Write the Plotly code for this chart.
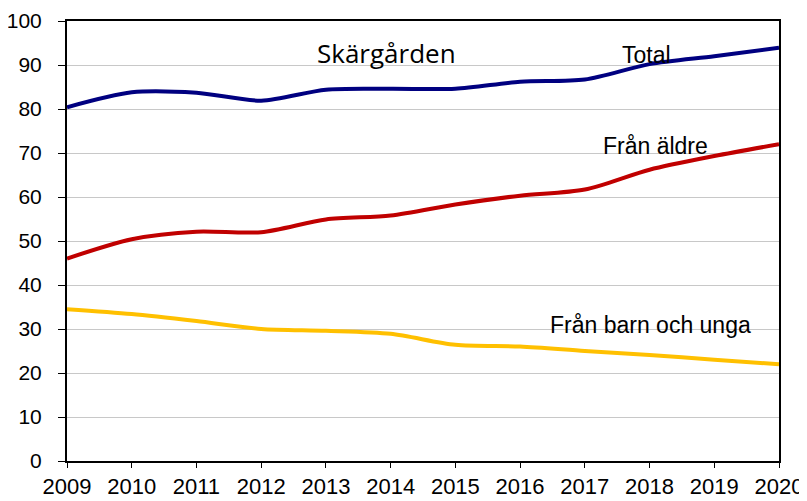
import plotly.graph_objects as go

years = [2009, 2010, 2011, 2012, 2013, 2014, 2015, 2016, 2017, 2018, 2019, 2020]
total = [80.4, 83.8, 83.7, 81.9, 84.4, 84.6, 84.6, 86.2, 86.7, 90.2, 92.0, 93.9]
fran_aldre = [46.0, 50.4, 52.1, 52.0, 54.9, 55.8, 58.3, 60.3, 61.7, 66.2, 69.3, 72.0]
fran_barn = [34.5, 33.4, 31.8, 30.0, 29.6, 28.9, 26.4, 26.0, 25.0, 24.1, 23.0, 22.0]
y_ticks = [0, 10, 20, 30, 40, 50, 60, 70, 80, 90, 100]

fig = go.Figure()
for name, vals, color in [
    ("Total", total, "#000080"),
    ("Från äldre", fran_aldre, "#C00000"),
    ("Från barn och unga", fran_barn, "#FFC000"),
]:
    fig.add_trace(go.Scatter(x=years, y=vals, mode="lines", name=name,
                             line=dict(color=color, width=4, shape="spline", smoothing=0.8)))

font_ann = dict(family="Liberation Sans, Arial", size=23, color="black")
ann = [
    dict(x=2013.94, y=92.7, text="Skärgården", font=dict(family="Open Sans", size=26, color="black")),
    dict(x=2017.96, y=92.3, text="Total", font=font_ann),
    dict(x=2018.09, y=71.6, text="Från äldre", font=font_ann),
    dict(x=2018.01, y=30.8, text="Från barn och unga", font=font_ann),
]
for a in ann:
    fig.add_annotation(x=a["x"], y=a["y"], text=a["text"], showarrow=False,
                       xanchor="center", yanchor="middle", font=a["font"])

fig.update_layout(
    width=799, height=493,
    margin=dict(l=59, r=28, t=13, b=40, autoexpand=False),
    paper_bgcolor="white", plot_bgcolor="white",
    showlegend=False,
    font=dict(family="Liberation Sans, Arial", size=20, color="black"),
)
fig.update_xaxes(range=[2009, 2020], tickvals=years, ticktext=[str(y) for y in years],
                 automargin=False,
                 showgrid=False, showline=True, linecolor="black", linewidth=2, mirror=True,
                 ticks="outside", ticklen=5, tickcolor="black",
                 tickfont=dict(family="Liberation Sans, Arial", size=22, color="black"), zeroline=False)
fig.update_yaxes(range=[0, 100], tickvals=y_ticks, showgrid=True, gridcolor="#c8c8c8", gridwidth=1,
                 automargin=False,
                 showline=True, linecolor="black", linewidth=2, mirror=True,
                 ticks="outside", ticklen=7, tickcolor="black", ticklabelstandoff=12,
                 tickfont=dict(family="Liberation Sans, Arial", size=21, color="black"), zeroline=False)

fig.write_html("out.html")
